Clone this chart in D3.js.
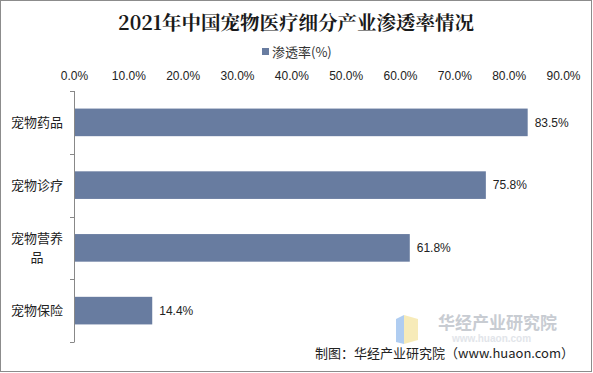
<!DOCTYPE html>
<html><head><meta charset="utf-8">
<script src="https://cdn.jsdelivr.net/npm/d3@7"></script>
<style>body{margin:0;background:#fff}svg{display:block}</style>
</head><body>
<script>
const categories = ["宠物药品","宠物诊疗","宠物营养品","宠物保险"];
const values = [83.5, 75.8, 61.8, 14.4];
const tickValues = [0,10,20,30,40,50,60,70,80,90];
const title = "2021年中国宠物医疗细分产业渗透率情况";
const seriesName = "渗透率(%)";
const source = "制图：华经产业研究院（www.huaon.com）";

const W = 593, H = 373;
const svg = d3.select("body").append("svg").attr("width", W).attr("height", H);
svg.append("rect").attr("x",0.5).attr("y",0.5).attr("width",W-2).attr("height",H-2)
  .attr("fill","#fff").attr("stroke","#8c8c8c");

const sans = "'Liberation Sans', Arial, 'Noto Sans CJK SC', sans-serif";
const cjk = "'Noto Sans CJK SC', sans-serif";

svg.append("text").attr("x",296).attr("y",30).attr("text-anchor","middle")
  .attr("font-family","'Noto Serif CJK SC','Noto Sans CJK SC',serif").attr("font-weight","bold")
  .attr("font-size",19.5).attr("fill","#1a1a1a").text(title);

// legend
svg.append("rect").attr("x",262).attr("y",48).attr("width",7).attr("height",7).attr("fill","#687ca0");
svg.append("text").attr("x",272).attr("y",57).attr("font-family",cjk).attr("font-size",13)
  .attr("fill","#333").text(seriesName);

const x = d3.scaleLinear().domain([0,90]).range([74,563]);
const y = d3.scaleBand().domain(categories).range([91,342]).paddingInner(0.56).paddingOuter(0.28);

const xAxis = svg.append("g").attr("transform","translate(0,76)")
  .call(d3.axisTop(x).tickValues(tickValues).tickFormat(d=>d.toFixed(1)+"%").tickSize(0));
xAxis.select(".domain").remove();
xAxis.selectAll("text").attr("font-family",sans).attr("font-size",12).attr("fill","#222").attr("dy","0.32em").attr("y",0);

// y axis line with ticks at band boundaries
const yAxisG = svg.append("g");
yAxisG.append("line").attr("x1",74.5).attr("x2",74.5).attr("y1",91).attr("y2",342).attr("stroke","#888");
d3.range(categories.length+1).forEach(i=>{
  const yy = Math.round(91 + i*(251/categories.length))+0.5;
  yAxisG.append("line").attr("x1",70).attr("x2",74.5).attr("y1",yy).attr("y2",yy).attr("stroke","#888");
});

svg.selectAll("rect.bar").data(values).enter().append("rect").attr("class","bar")
  .attr("x",x(0)+1).attr("y",(d,i)=>y(categories[i]))
  .attr("width",d=>x(d)-x(0)-1).attr("height",y.bandwidth()).attr("fill","#687ca0");

svg.selectAll("text.val").data(values).enter().append("text").attr("class","val")
  .attr("x",d=>x(d)+7).attr("y",(d,i)=>y(categories[i])+y.bandwidth()/2).attr("dy","0.35em")
  .attr("font-family",sans).attr("font-size",12).attr("fill","#222").text(d=>d.toFixed(1)+"%");

// category labels
categories.forEach((c,i)=>{
  const cy = y(c)+y.bandwidth()/2;
  const lines = c.length>4 ? [c.slice(0,4), c.slice(4)] : [c];
  const lh = 19;
  lines.forEach((l,j)=>{
    svg.append("text").attr("x",37).attr("y",cy + (j-(lines.length-1)/2)*lh).attr("dy","0.35em")
      .attr("text-anchor","middle").attr("font-family",cjk).attr("font-size",13).attr("fill","#222").text(l);
  });
});

// watermark
svg.append("path").attr("d","M396,319 L404,315 L404,344 L396,342 Z").attr("fill","#9cc0ee").attr("opacity",0.8);
svg.append("path").attr("d","M404,315 L418,319 L418,340 L404,344 Z").attr("fill","#f5e6a8").attr("opacity",0.8);
svg.append("text").attr("x",438).attr("y",329).attr("font-family",cjk).attr("font-weight","bold").attr("font-size",17)
  .attr("fill","#c8ccd2").text("华经产业研究院");
svg.append("text").attr("x",452).attr("y",342).attr("font-family",sans).attr("font-weight","bold").attr("font-size",10)
  .attr("fill","#e2e5ea").text("www.huaon.com");

svg.append("text").attr("x",574).attr("y",358).attr("text-anchor","end").attr("font-family",cjk)
  .attr("font-size",13).attr("fill","#222").text(source);
</script>
</body></html>
